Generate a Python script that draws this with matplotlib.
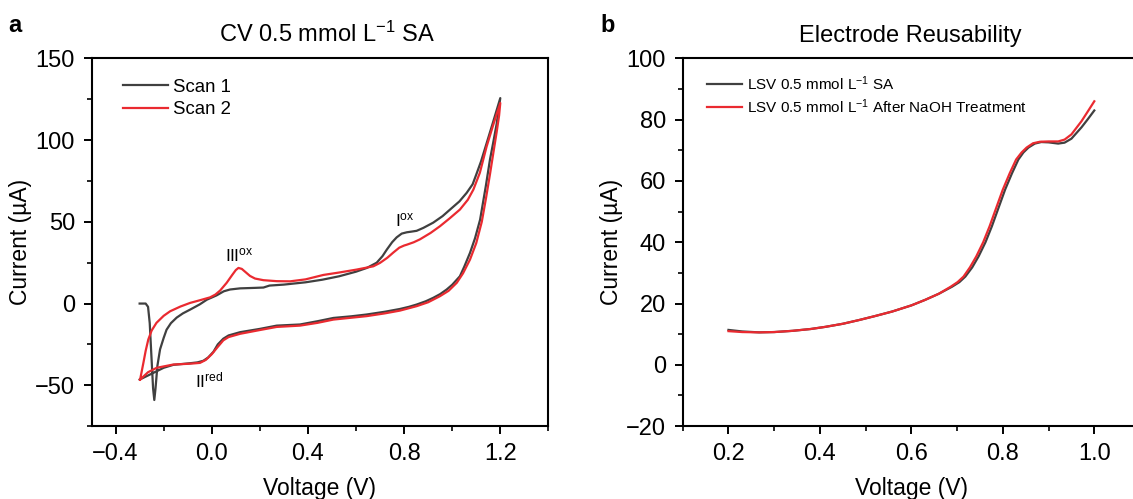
import matplotlib
matplotlib.use("Agg")
import matplotlib.pyplot as plt
from matplotlib.ticker import MultipleLocator

plt.rcParams["font.family"] = ["Liberation Sans", "DejaVu Sans"]
plt.rcParams["mathtext.fontset"] = "custom"
plt.rcParams["mathtext.rm"] = "Liberation Sans"
plt.rcParams["mathtext.it"] = "Liberation Sans:italic"

# --- panel a: CV, 0.5 mmol/L SA ---
scan1_v = [-0.30, -0.275, -0.265, -0.258, -0.25, -0.244, -0.239, -0.234, -0.226, -0.215, -0.2, -0.188,
           -0.17, -0.146, -0.12, -0.09, -0.05, -0.02, 0.02, 0.05, 0.076, 0.118, 0.18, 0.215, 0.24,
           0.3, 0.39, 0.46, 0.53, 0.6, 0.645, 0.686, 0.71, 0.728, 0.75, 0.769, 0.79, 0.811, 0.83,
           0.852, 0.88, 0.921, 0.96, 0.991, 1.03, 1.06, 1.085, 1.10, 1.12, 1.143, 1.17, 1.20,
           1.185, 1.17, 1.157, 1.14, 1.116, 1.095, 1.074, 1.05, 1.032, 1.0, 0.977, 0.95, 0.921,
           0.89, 0.852, 0.82, 0.783, 0.72, 0.644, 0.58, 0.506, 0.44, 0.367, 0.27, 0.2, 0.118,
           0.07, 0.048, 0.025, 0.007, -0.015, -0.035, -0.06, -0.09, -0.16, -0.2, -0.229, -0.265, -0.30]
scan1_i = [0.0, 0.0, -2, -12, -35, -52, -59, -52, -38, -28, -21, -16,
           -12, -8.6, -6, -3.7, -0.5, 2.4, 5.0, 7.5, 8.6, 9.3, 9.6, 9.8, 11,
           11.6, 13, 14.6, 16.7, 19.5, 21.8, 25, 29, 33, 37.5, 40.5, 42.8, 43.6, 44.0,
           44.5, 46.3, 49.5, 53.5, 57.5, 62.5, 67.7, 73, 78.9, 87, 98, 111, 125.7,
           110, 98, 88, 72, 51.3, 40, 31, 22.5, 16.7, 11.5, 8.6, 5.8, 3.5,
           1.4, -0.6, -2, -3.3, -5, -6.7, -7.8, -8.8, -10.8, -12.8, -13.5, -15.5, -17.5,
           -19.5, -21.5, -25, -29.5, -33, -35, -36, -36.5, -37.5, -39.3, -41.4, -44, -46.5]

scan2_v = [-0.298, -0.292, -0.284, -0.275, -0.264, -0.25, -0.23, -0.2, -0.173, -0.13, -0.09, -0.05,
           -0.007, 0.015, 0.035, 0.062, 0.085, 0.1, 0.111, 0.125, 0.14, 0.159, 0.18, 0.215, 0.27,
           0.326, 0.39, 0.464, 0.53, 0.603, 0.672, 0.70, 0.73, 0.755, 0.78, 0.8, 0.811, 0.84,
           0.866, 0.91, 0.949, 0.99, 1.032, 1.065, 1.088, 1.115, 1.143, 1.17, 1.20,
           1.195, 1.185, 1.172, 1.157, 1.14, 1.123, 1.1, 1.074, 1.045, 1.019, 0.985, 0.949, 0.9,
           0.852, 0.783, 0.72, 0.644, 0.506, 0.44, 0.367, 0.27, 0.2, 0.118, 0.07, 0.048, 0.025,
           0.0, -0.025, -0.049, -0.09, -0.16, -0.229, -0.265, -0.298]
scan2_i = [-46.5, -42, -36, -29, -22, -16.5, -11.8, -7.5, -4.7, -1.8, 0.4, 2,
           3.8, 5.5, 8, 12.7, 17.5, 20.5, 21.8, 21.2, 19.3, 16.9, 15.3, 14.3, 13.7,
           13.6, 14.8, 17.5, 19, 20.8, 22.8, 24.9, 28, 31.2, 34.2, 35.5, 36, 37.5,
           39.3, 43.2, 47.3, 52.2, 57.5, 63.5, 69.7, 80, 96, 109, 122.7,
           115, 105, 93, 79, 64, 50, 37, 26.9, 18.5, 12.7, 7.8, 4.5, 0.8,
           -1.6, -4.3, -6, -7.7, -9.8, -11.8, -13.5, -14.3, -16.2, -18.5, -20.5, -22.5, -26.5,
           -31, -34.5, -36.3, -36.8, -37.3, -39.3, -42, -46.5]

# --- panel b: LSV reusability ---
lsv1_v = [0.2, 0.23, 0.267, 0.3, 0.34, 0.38, 0.412, 0.45, 0.485, 0.52, 0.558, 0.6, 0.63, 0.66,
          0.689, 0.705, 0.718, 0.733, 0.747, 0.762, 0.776, 0.79, 0.805, 0.82, 0.834, 0.845, 0.856,
          0.87, 0.884, 0.9, 0.921, 0.935, 0.95, 0.972, 0.985, 1.0]
lsv1_i = [11.4, 10.9, 10.6, 10.7, 11.1, 11.7, 12.4, 13.4, 14.6, 15.9, 17.4, 19.4, 21.2, 23.2,
          25.5, 27.0, 28.8, 31.8, 35.4, 40.0, 45.2, 51.0, 57.2, 62.5, 67.0, 69.3, 70.9,
          72.2, 72.7, 72.6, 72.2, 72.5, 73.8, 77.5, 80.0, 83.0]
lsv2_v = [0.2, 0.23, 0.267, 0.3, 0.34, 0.38, 0.412, 0.45, 0.485, 0.52, 0.558, 0.6, 0.63, 0.66,
          0.686, 0.701, 0.714, 0.728, 0.742, 0.757, 0.771, 0.785, 0.8, 0.815, 0.829, 0.841, 0.852,
          0.866, 0.881, 0.9, 0.921, 0.935, 0.95, 0.972, 0.985, 1.0]
lsv2_i = [11.0, 10.7, 10.6, 10.7, 11.1, 11.7, 12.4, 13.4, 14.6, 15.9, 17.4, 19.4, 21.2, 23.2,
          25.5, 27.0, 28.8, 31.8, 35.4, 40.0, 45.2, 51.0, 57.2, 62.5, 67.0, 69.3, 70.9,
          72.3, 72.8, 72.9, 72.9, 73.5, 75.2, 79.5, 82.5, 86.0]

GREY = "#404040"
RED = "#ea2a30"

fig = plt.figure(figsize=(11.33, 4.99), dpi=100)
axa = fig.add_axes([0.0808, 0.146, 0.4032, 0.737])
axb = fig.add_axes([0.6026, 0.146, 0.4036, 0.737])

axa.plot(scan1_v, scan1_i, color=GREY, lw=1.6, label="Scan 1")
axa.plot(scan2_v, scan2_i, color=RED, lw=1.6, label="Scan 2")
axa.set_xlim(-0.5, 1.4); axa.set_ylim(-75, 150)
axa.xaxis.set_major_locator(MultipleLocator(0.4)); axa.xaxis.set_minor_locator(MultipleLocator(0.2))
axa.yaxis.set_major_locator(MultipleLocator(50)); axa.yaxis.set_minor_locator(MultipleLocator(25))
axa.set_title("CV 0.5 mmol L$^{-1}$ SA", fontsize=17, pad=12, x=0.515)
axa.text(0.055, 26, "III$^{\\mathrm{ox}}$", fontsize=12.5)
axa.text(0.762, 47, "I$^{\\mathrm{ox}}$", fontsize=12.5)
axa.text(-0.07, -51, "II$^{\\mathrm{red}}$", fontsize=12.5)
axa.legend(loc="upper left", bbox_to_anchor=(0.053, 0.965), frameon=False, fontsize=13.4,
           handlelength=2.4, handletextpad=0.3, labelspacing=0.3, borderaxespad=0)

axb.plot(lsv1_v, lsv1_i, color=GREY, lw=1.6, label="LSV 0.5 mmol L$^{-1}$ SA")
axb.plot(lsv2_v, lsv2_i, color=RED, lw=1.6, label="LSV 0.5 mmol L$^{-1}$ After NaOH Treatment")
axb.set_xlim(0.1, 1.1); axb.set_ylim(-20, 100)
axb.xaxis.set_major_locator(MultipleLocator(0.2)); axb.xaxis.set_minor_locator(MultipleLocator(0.1))
axb.yaxis.set_major_locator(MultipleLocator(20)); axb.yaxis.set_minor_locator(MultipleLocator(10))
axb.set_title("Electrode Reusability", fontsize=17, pad=12, x=0.497)
axb.spines["right"].set_visible(False)
axb.legend(loc="upper left", bbox_to_anchor=(0.039, 0.974), frameon=False, fontsize=11,
           handlelength=2.3, handletextpad=0.33, labelspacing=0.3, borderaxespad=0)

for ax in (axa, axb):
    ax.set_xlabel("Voltage (V)", fontsize=16.5)
    ax.set_ylabel("Current (µA)", fontsize=16.5)
    ax.xaxis.set_label_coords(0.5, -0.139)
    ax.yaxis.set_label_coords(-0.13, 0.5)
    ax.tick_params(which="major", direction="out", length=6, width=1.4, labelsize=17, pad=6)
    ax.tick_params(which="minor", direction="out", length=3.5, width=1.2)
    for s in ax.spines.values():
        s.set_linewidth(1.5)

fig.text(0.007, 0.935, "a", fontsize=17, fontweight="bold")
fig.text(0.530, 0.935, "b", fontsize=17, fontweight="bold")

fig.savefig("out.png", dpi=100)
